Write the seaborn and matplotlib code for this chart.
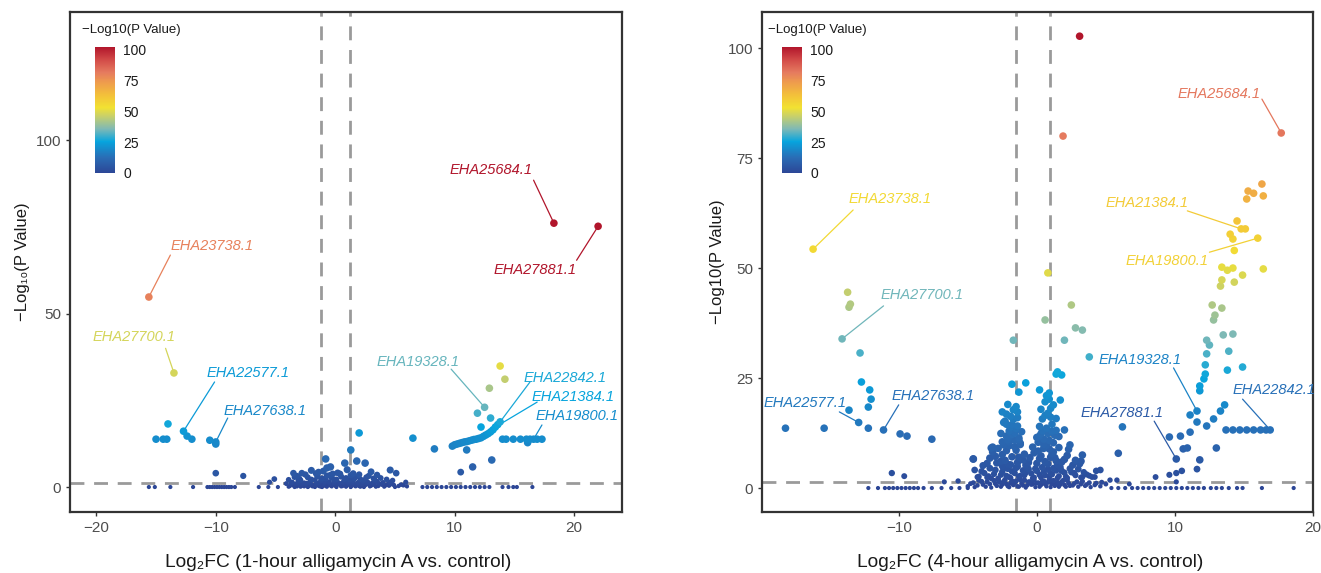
import numpy as np
import pandas as pd
import matplotlib
matplotlib.use("Agg")
import matplotlib.pyplot as plt
from matplotlib.colors import LinearSegmentedColormap, Normalize
import matplotlib.colorbar as mcolorbar
import seaborn as sns

# ------------------------------------------------------------------
# Panel 1 : 1-hour alligamycin A vs. control
# ------------------------------------------------------------------
p1_core_x = [-3.8,-3.5,-3.2,-3.0,-2.7,-2.5,-2.2,-2.0,-1.8,-1.6,-1.4,-1.2,-1.0,-0.8,-0.6,-0.4,-0.2,0.0,0.2,0.4,
             0.6,0.8,1.0,1.2,1.4,1.6,1.8,2.0,2.2,2.5,2.8,3.0,3.3,3.6,3.9,4.2,4.5,4.9,5.3,5.7,
             -3.6,-3.1,-2.6,-2.1,-1.7,-1.3,-0.9,-0.5,-0.1,0.3,0.7,1.1,1.5,1.9,2.3,2.7,3.1,3.5,4.0,4.6,
             -3.0,-2.3,-1.5,-1.1,-0.7,-0.3,0.1,0.5,0.9,1.3,1.7,2.1,2.6,3.2,3.8,
             -3.5,-2.8,-3.2,-1.4,-0.8,-0.4,-0.7,0.8,1.8,2.5,4.6,5.1,3.5,5.9,-1.0,0.2,1.0,-2.0,3.0,1.5,-0.2]
p1_core_y = [0.3,0.5,0.2,0.6,0.4,0.8,0.3,0.7,0.5,0.9,0.4,0.6,1.0,0.3,0.8,0.5,0.7,0.4,0.9,0.6,
             0.3,0.8,0.5,1.0,0.4,0.7,0.6,0.3,0.9,0.5,0.8,0.4,0.6,0.3,0.7,0.5,0.4,0.6,0.3,0.5,
             1.4,1.8,1.2,1.6,2.0,1.3,1.7,1.5,1.9,1.2,1.6,1.4,1.8,1.3,1.7,1.5,1.2,1.6,1.3,1.4,
             2.4,2.8,3.1,2.5,3.3,2.7,2.2,3.0,2.6,3.4,2.9,2.3,2.8,2.5,2.6,
             4.0,4.0,3.2,4.3,8.1,5.8,5.5,6.9,7.5,6.9,4.9,4.0,3.5,1.4,4.6,4.1,5.0,4.8,4.4,3.9,3.8]

p1_core2_x = [-4.1,-3.9,-3.7,-3.4,-3.3,-3.1,-2.9,-2.8,-2.6,-2.4,-2.3,-2.1,-1.9,-1.7,-1.5,-1.3,-1.1,-0.9,-0.7,-0.5,
              -0.3,-0.1,0.1,0.3,0.5,0.7,0.9,1.1,1.3,1.5,1.7,1.9,2.1,2.3,2.4,2.6,2.9,3.2,3.4,3.7,4.1,4.4,4.7,5.0,5.5,6.0,
              -3.9,-3.4,-2.9,-2.5,-2.0,-1.6,-1.2,-0.8,-0.4,0.0,0.4,0.8,1.2,1.6,2.0,2.4,2.8,3.3,4.3,4.8]
p1_core2_y = [1.0,0.1,1.1,0.0,0.9,1.2,0.1,1.0,0.2,1.1,0.0,1.2,0.2,0.0,1.1,0.2,0.0,1.3,0.1,1.0,
              0.2,1.2,0.0,1.1,0.2,1.3,0.1,1.0,0.0,1.2,0.2,1.1,0.1,1.0,0.0,1.2,0.2,0.9,0.1,1.0,0.1,0.8,0.9,0.0,0.7,0.2,
              2.1,2.9,2.0,3.6,2.2,3.9,2.0,2.4,3.5,2.1,3.8,2.2,2.1,2.5,3.6,2.0,3.2,2.1,2.2,1.9]

p1_row0_x = [-15.6,-15.1,-13.8,-11.9,-10.7,-10.5,-10.3,-10.1,-9.9,-9.7,-9.5,-9.3,-9.1,-8.9,-8.7,-8.4,-6.4,-5.6,-4.8,
             7.3,7.7,8.1,8.5,8.9,9.3,9.7,10.1,10.5,10.9,11.3,11.7,12.1,12.5,12.9,14.0,14.5,14.9,15.2,16.5]
p1_row0_y = [0.0,0.0,0.0,0.0,0.0,0.0,0.0,0.0,0.0,0.0,0.0,0.0,0.0,0.0,0.0,0.0,0.0,0.0,0.0,
             0.0,0.0,0.0,0.0,0.0,0.0,0.0,0.0,0.0,0.0,0.0,0.0,0.0,0.0,0.0,0.0,0.0,0.0,0.0,0.0]

p1_curve_x = [9.8,10.0,10.2,10.4,10.6,10.8,11.0,11.2,11.4,11.6,11.8,12.0,12.2,12.4,12.6,12.8,13.0,13.2,13.6,
              14.0,14.3,14.9,15.5,16.0,16.3,16.9,17.3,16.1]
p1_curve_y = [11.8,12.2,12.4,12.6,12.8,13.0,13.1,13.3,13.5,13.7,13.8,14.0,14.2,14.6,15.0,15.4,15.9,16.5,18.0,
              13.8,13.8,13.8,13.8,13.8,13.8,13.8,13.8,12.8]

p1_other_x = [-14.0,-15.0,-14.4,-14.1,-12.4,-12.0,-10.5,-10.0,-10.0,-7.7,-5.5,-5.1,
              13.8,14.2,12.9,11.9,13.0,12.2,6.5,8.3,11.0,13.1,11.5,10.5,2.0,1.3]
p1_other_y = [18.2,13.8,13.8,13.8,14.7,13.8,13.5,12.4,4.0,3.2,1.4,2.3,
              34.9,31.1,28.5,21.3,19.9,17.3,14.1,11.0,10.7,7.8,5.8,4.3,15.6,10.7]

p1_genes = ["EHA25684.1","EHA27881.1","EHA23738.1","EHA27700.1","EHA22577.1",
            "EHA27638.1","EHA19328.1","EHA22842.1","EHA21384.1","EHA19800.1"]
p1_gene_x = [18.3,22.0,-15.6,-13.5,-12.7,-10.0,12.5,13.8,13.4,16.6]
p1_gene_y = [76.1,75.2,54.8,32.9,16.1,13.0,23.0,18.8,17.3,13.8]
p1_text_x = [13.0,16.7,-10.3,-16.8,-7.3,-5.9,6.9,19.2,19.9,20.2]
p1_text_y = [91.4,62.5,69.5,43.2,32.9,21.9,36.0,31.4,26.0,20.5]
p1_line_x = [16.6,20.2,-13.8,-14.2,-10.1,-9.0,9.7,16.3,16.9,17.3]
p1_line_y = [88.5,65.4,66.9,40.0,30.3,19.9,34.0,30.3,24.5,17.9]

# ------------------------------------------------------------------
# Panel 2 : 4-hour alligamycin A vs. control
# ------------------------------------------------------------------
p2_core_x = [-5.0,-4.6,-4.3,-4.0,-3.7,-3.4,-3.1,-2.9,-2.7,-2.5,-2.3,-2.1,-1.9,-1.7,-1.5,-1.3,-1.1,-0.9,-0.7,-0.5,
             -0.3,-0.1,0.1,0.3,0.5,0.7,0.9,1.1,1.3,1.5,1.7,1.9,2.1,2.3,2.6,2.9,3.2,3.5,3.8,4.2,4.6,5.0,
             -4.2,-3.8,-3.3,-3.0,-2.6,-2.4,-2.0,-1.8,-1.4,-1.2,-0.8,-0.6,-0.2,0.0,0.4,0.6,1.0,1.2,1.6,1.8,
             2.2,2.5,2.8,3.2,3.6,4.0,
             -3.6,-3.0,-2.6,-2.2,-1.9,-1.6,-1.3,-1.0,-0.6,-0.2,0.2,0.5,0.8,1.1,1.4,1.8,2.2,2.6,-4.6,-2.4,0.9,1.3,
             -2.5,-2.2,-2.0,-1.8,-1.6,-1.4,-1.3,-1.1,-2.3,-1.9,-1.5,-1.7,-2.1,-1.2,
             0.1,0.3,0.5,0.7,0.9,1.1,1.3,0.4,0.8,1.0,1.2,0.6,0.2,1.4,0.9]
p2_core_y = [0.4,1.2,0.6,1.5,0.3,0.9,1.7,0.5,1.3,0.8,1.9,0.4,1.1,0.7,1.6,0.3,1.0,1.8,0.6,1.4,
             0.9,0.2,1.2,0.7,1.6,0.4,1.9,1.0,0.5,1.3,0.8,1.7,0.3,1.1,0.6,1.4,0.9,0.5,1.2,0.7,0.4,0.9,
             2.6,3.4,2.2,4.1,3.0,4.6,2.5,3.8,4.9,2.8,3.5,4.3,2.4,3.9,4.7,2.9,3.3,4.5,2.7,3.9,
             2.3,3.6,2.9,2.4,3.1,2.5,
             5.6,7.2,6.1,8.5,5.3,9.4,7.0,6.4,5.8,8.0,6.7,9.0,5.5,7.8,6.2,5.9,7.4,5.2,6.6,9.8,8.9,6.9,
             10.5,11.8,13.0,12.2,10.9,14.1,11.4,12.8,15.2,16.3,13.5,17.8,19.0,10.2,
             10.4,12.3,11.1,13.6,10.8,14.5,12.0,15.7,17.0,16.1,18.9,19.6,11.8,13.1,20.2]

p2_core2_x = [-4.8,-4.5,-4.2,-3.9,-3.6,-3.3,-3.0,-2.8,-2.6,-2.4,-2.2,-2.0,-1.8,-1.6,-1.4,-1.2,-1.0,-0.8,-0.6,-0.4,
              -0.2,0.0,0.2,0.4,0.6,0.8,1.0,1.2,1.4,1.6,1.8,2.0,2.2,2.4,2.7,3.0,3.3,3.6,3.9,4.3,4.7,
              -4.0,-3.6,-3.4,-3.1,-2.8,-2.5,-2.2,-2.1,-1.9,-1.6,-1.5,-1.3,-1.0,-0.9,-0.7,-0.4,-0.3,-0.1,0.2,0.3,
              0.5,0.8,0.9,1.1,1.4,1.5,1.7,2.0,2.1,2.4,2.7,3.0,3.4,3.8,4.3,
              -3.9,-3.4,-3.2,-2.9,-2.8,-2.5,-2.3,-2.1,-2.0,-1.8,-1.5,-1.4,-1.2,-0.9,-0.8,-0.5,-0.3,0.0,0.1,0.3,
              0.6,0.7,1.0,1.2,1.5,1.6,2.0,2.3,2.8,3.1,
              -2.6,-2.4,-2.2,-2.0,-1.9,-1.7,-1.6,-1.5,-1.4,-1.3,-2.1,-1.8,
              0.0,0.2,0.4,0.6,0.8,1.0,1.2,1.4,1.6,0.3,0.7,1.1,0.5]
p2_core2_y = [1.0,0.2,1.8,0.8,1.4,0.1,1.0,1.9,0.3,1.5,0.9,0.2,1.6,1.2,0.4,1.9,0.6,0.1,1.4,0.8,
              1.8,1.1,0.3,1.5,0.9,1.3,0.2,1.7,0.9,0.3,1.4,0.7,1.8,0.5,1.0,0.3,1.5,0.8,0.2,1.1,1.3,
              3.8,2.4,4.5,3.2,2.2,3.7,2.8,4.4,2.3,3.4,4.6,2.6,4.0,2.9,4.8,3.3,2.2,4.4,3.0,2.4,
              3.7,4.2,2.6,3.1,4.0,2.3,4.7,3.5,2.6,4.4,3.4,4.3,3.6,2.8,3.9,
              5.1,6.8,8.2,5.7,9.0,7.6,6.3,5.4,9.6,7.1,8.6,5.8,9.9,7.7,5.2,6.9,9.3,5.6,8.4,7.3,
              6.0,9.7,7.0,8.2,5.4,9.2,6.5,8.8,6.3,5.5,
              12.4,14.9,16.8,11.6,13.9,15.6,12.5,18.5,16.0,11.0,10.9,14.4,
              11.5,14.0,13.0,16.5,12.4,18.1,10.3,15.8,11.7,17.9,21.0,12.9,9.9]

p2_row0_x = [-12.2,-11.5,-11.0,-10.7,-10.4,-10.1,-9.8,-9.5,-9.2,-8.9,-8.6,-8.2,-7.6,-6.9,-6.2,-5.6,-5.0,
             5.4,5.9,6.4,6.9,7.3,7.7,8.1,8.5,8.9,9.3,9.7,10.1,10.5,10.9,11.3,11.7,12.1,12.6,13.0,13.4,13.9,
             14.5,14.9,16.3,18.6]
p2_row0_y = [0.0,0.0,0.0,0.0,0.0,0.0,0.0,0.0,0.0,0.0,0.0,0.0,0.0,0.0,0.0,0.0,0.0,
             0.0,0.0,0.0,0.0,0.0,0.0,0.0,0.0,0.0,0.0,0.0,0.0,0.0,0.0,0.0,0.0,0.0,0.0,0.0,0.0,0.0,
             0.0,0.0,0.0,0.0]

p2_right_x = [16.3,15.3,15.7,16.4,15.2,14.5,15.1,14.0,14.2,14.3,13.4,13.8,14.2,16.4,14.9,13.4,14.3,13.3,
              12.7,12.9,12.8,13.4,12.3,12.5,13.5,14.2,13.9,12.3,12.2,12.2,12.1,11.8,11.8,13.8,14.9,
              13.6,13.3,12.8,12.3,11.6,11.1,11.1,10.4,9.6,10.9,10.6,13.0,
              13.7,14.2,14.7,15.2,15.7,16.2,16.6,
              11.8,11.6,10.5,10.1,9.6,8.6,10.1,6.2,5.9,3.2,3.8,2.0,3.3,4.2,5.3,5.8,6.7]
p2_right_y = [69.1,67.5,67.0,66.4,65.7,60.7,58.9,57.7,56.6,54.0,50.2,49.5,50.0,49.8,48.4,47.3,46.8,45.9,
              41.6,39.3,38.2,40.9,33.6,32.5,34.8,35.0,31.1,30.5,28.0,25.9,24.8,23.2,22.1,26.8,27.5,
              18.9,17.5,15.7,14.1,15.0,16.6,12.7,11.8,11.6,9.1,8.9,9.1,
              13.2,13.2,13.2,13.2,13.2,13.2,13.2,
              6.4,4.3,3.9,3.4,3.0,2.5,1.4,13.9,7.9,6.1,29.8,33.6,2.5,2.5,1.8,1.8,0.9]

p2_left_x = [-18.2,-15.4,-12.8,-12.7,-12.1,-12.0,-12.2,-13.6,-12.2,-9.9,-9.4,-7.6,-13.7,-13.5,-13.6,
             -10.5,-9.6,-6.7,-5.7,-4.6,
             -2.5,-2.2,-1.8,-1.3,-0.8,-1.4,0.2,0.9,1.4,1.5,1.8,-1.7,0.6,2.5,2.8,3.3,0.8,1.9,3.1,
             -3.2,-3.3,-2.0,-4.5,-4.3,-3.5,-2.5,1.7,2.0,2.4,3.3,4.6]
p2_left_y = [13.6,13.6,30.7,24.1,22.3,20.2,18.4,17.7,13.6,12.3,11.8,11.1,44.5,41.8,41.1,
             3.4,2.7,1.4,1.6,6.6,
             17.3,14.5,23.6,21.8,23.9,17.3,22.3,21.6,25.9,26.4,25.7,33.6,38.2,41.6,36.4,35.9,48.9,80.0,102.7,
             9.3,9.1,10.5,4.1,2.5,2.7,5.0,20.0,13.2,9.8,7.5,4.1]

p2_genes = ["EHA25684.1","EHA21384.1","EHA19800.1","EHA23738.1","EHA27700.1",
            "EHA22577.1","EHA27638.1","EHA19328.1","EHA27881.1","EHA22842.1"]
p2_gene_x = [17.7,14.8,16.0,-16.2,-14.1,-12.9,-11.1,11.6,10.1,16.9]
p2_gene_y = [80.7,58.9,56.8,54.3,33.9,14.9,13.2,17.5,6.6,13.2]
p2_text_x = [13.2,8.0,9.4,-10.6,-8.3,-16.8,-7.5,7.5,6.2,17.2]
p2_text_y = [89.5,64.8,51.6,65.7,43.9,19.3,20.9,29.1,17.0,22.3]
p2_line_x = [16.3,10.9,12.5,-13.3,-11.1,-14.3,-10.0,9.9,8.5,14.9]
p2_line_y = [88.4,63.0,53.6,63.2,41.4,17.3,18.9,27.3,15.2,20.2]

# ------------------------------------------------------------------
sns.set_theme(style="white")
plt.rcParams["font.family"] = ["Liberation Sans", "DejaVu Sans"]
plt.rcParams["axes.unicode_minus"] = True

cmap = LinearSegmentedColormap.from_list("pv", [
    (0.00, "#2C4696"), (0.12, "#2A6CB5"), (0.25, "#06A5DE"), (0.35, "#7FB9B5"),
    (0.45, "#C8D06A"), (0.52, "#F2E232"), (0.62, "#F3C03A"), (0.72, "#EE9B4D"),
    (0.80, "#E57B5F"), (0.90, "#D24A48"), (1.00, "#B1152B")])

W, H = 1321, 573
fig = plt.figure(figsize=(W / 100, H / 100), dpi=100)


def frame(xs, ys):
    x = np.concatenate([np.asarray(a, float) for a in xs])
    y = np.concatenate([np.asarray(a, float) for a in ys])
    df = pd.DataFrame({"log2fc": x, "nlogp": y})
    return df.sort_values("nlogp").reset_index(drop=True)


def panel(rect, df, vmax, gx, gy, genes, tx, ty, lx, ly, xlim, ylim, xticks, yticks,
          xlabel, xlab_x, ylabel, ypad, vlines, cb_rect, cb_title_xy):
    ax = fig.add_axes(rect)
    norm = Normalize(0, vmax, clip=True)
    sns.scatterplot(data=df, x="log2fc", y="nlogp", hue="nlogp", palette=cmap, hue_norm=norm,
                    size="nlogp", sizes=(9, 30), size_norm=Normalize(0, 6, clip=True),
                    linewidth=0, legend=False, ax=ax, zorder=3)
    for v in vlines:
        ax.axvline(v, color="#9a9a9a", lw=2.0, ls=(0, (5, 3.5)), zorder=1)
    ax.axhline(1.3, color="#9a9a9a", lw=2.0, ls=(0, (5, 3.5)), zorder=1)
    for g, px, py, x0, y0, x1, y1 in zip(genes, gx, gy, tx, ty, lx, ly):
        c = cmap(norm(py))
        ax.plot([x1, px], [y1, py], color=c, lw=0.9, zorder=2)
        ax.text(x0, y0, g, color=c, fontsize=10.5, style="italic", ha="center", va="center")
    ax.set_xlim(*xlim)
    ax.set_ylim(*ylim)
    ax.set_xticks(xticks)
    ax.set_yticks(yticks)
    ax.tick_params(direction="out", length=3, width=1, color="#333333",
                   labelcolor="#4d4d4d", labelsize=11, bottom=True, left=True)
    for s in ax.spines.values():
        s.set_color("#333333")
        s.set_linewidth(1.6)
    ax.set_xlabel(xlabel, fontsize=13.8, color="#1a1a1a", labelpad=14)
    ax.xaxis.label.set_x(xlab_x)
    ax.set_ylabel(ylabel, fontsize=12, color="#1a1a1a", labelpad=ypad)
    ax.grid(False)
    # colour bar legend
    cax = fig.add_axes(cb_rect)
    cb = mcolorbar.ColorbarBase(cax, cmap=cmap, norm=Normalize(0, 102), ticks=[0, 25, 50, 75, 100])
    cb.outline.set_visible(False)
    cax.tick_params(length=0, labelsize=10, labelcolor="#1a1a1a", pad=6)
    fig.text(cb_title_xy[0], cb_title_xy[1], "\u2212Log10(P Value)", fontsize=9.5,
             color="#1a1a1a", ha="left", va="center")
    return ax


df1 = frame([p1_core_x, p1_core2_x, p1_row0_x, p1_curve_x, p1_other_x, p1_gene_x],
            [p1_core_y, p1_core2_y, p1_row0_y, p1_curve_y, p1_other_y, p1_gene_y])
df2 = frame([p2_core_x, p2_core2_x, p2_row0_x, p2_right_x, p2_left_x, p2_gene_x],
            [p2_core_y, p2_core2_y, p2_row0_y, p2_right_y, p2_left_y, p2_gene_y])

panel([70 / W, 1 - 512 / H, 552 / W, 500 / H], df1, 70,
      p1_gene_x, p1_gene_y, p1_genes, p1_text_x, p1_text_y, p1_line_x, p1_line_y,
      (-22.2, 24.0), (-7.2, 137), [-20, -10, 0, 10, 20], [0, 50, 100],
      "Log\u2082FC (1-hour alligamycin A vs. control)", 0.485, "\u2212Log\u2081\u2080(P Value)", 4,
      [-1.2, 1.2], [95 / W, 1 - 173 / H, 20 / W, 126 / H], (82 / W, 1 - 30 / H))

panel([762 / W, 1 - 512 / H, 551 / W, 500 / H], df2, 100,
      p2_gene_x, p2_gene_y, p2_genes, p2_text_x, p2_text_y, p2_line_x, p2_line_y,
      (-19.9, 20.0), (-5.45, 108.2), [-10, 0, 10, 20], [0, 25, 50, 75, 100],
      "Log\u2082FC (4-hour alligamycin A vs. control)", 0.487, "\u2212Log10(P Value)", 1.5,
      [-1.5, 0.95], [782 / W, 1 - 173 / H, 20 / W, 126 / H], (768 / W, 1 - 30 / H))

fig.savefig("out.png", dpi=100)
